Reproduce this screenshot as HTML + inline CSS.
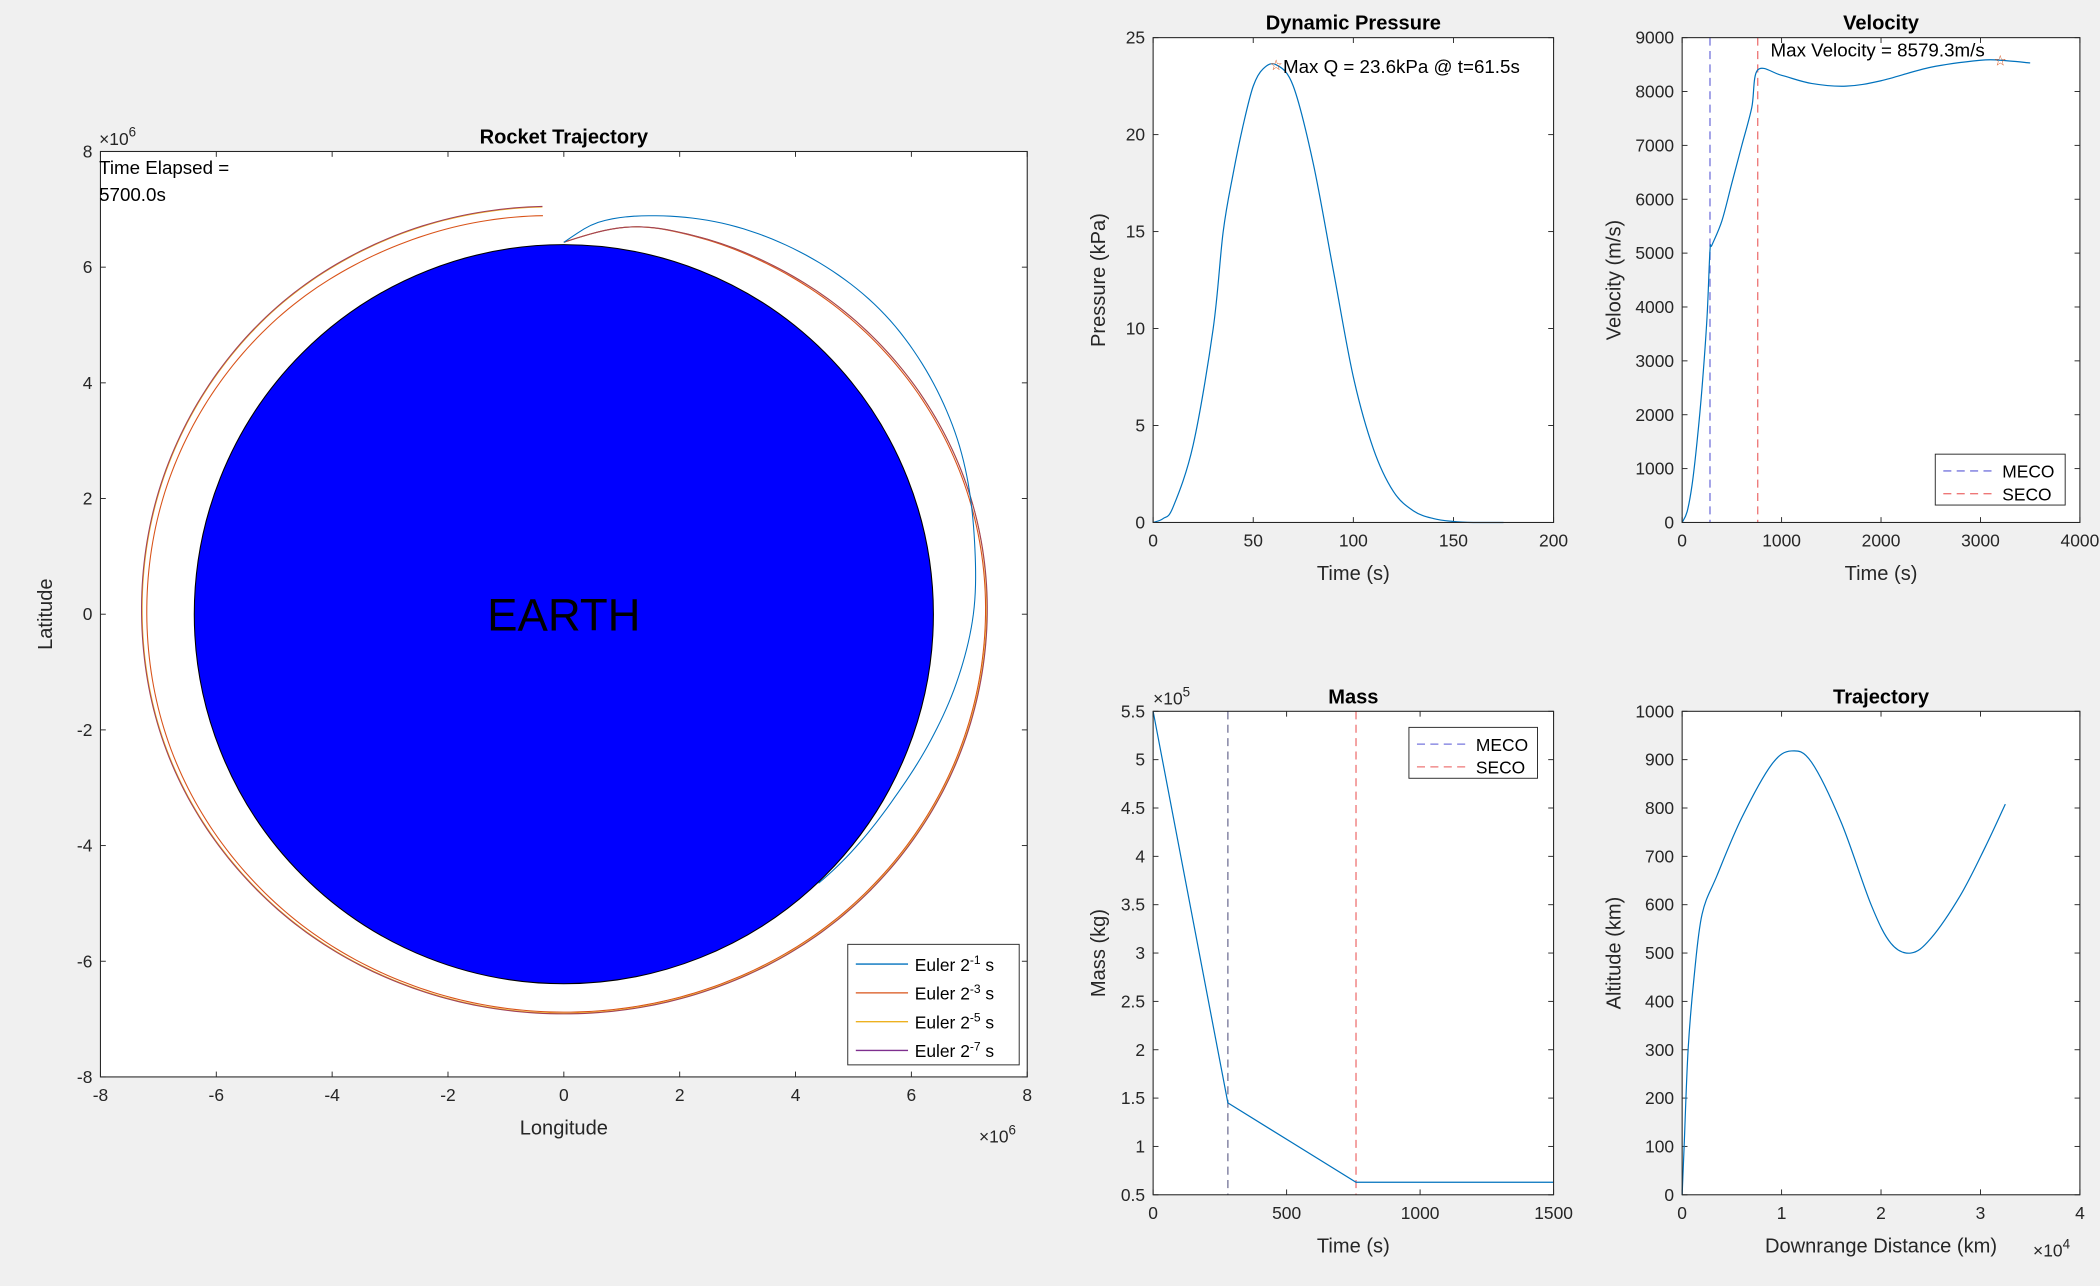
<!DOCTYPE html>
<html><head><meta charset="utf-8"><style>
html,body{margin:0;padding:0;background:#f0f0f0;}
svg{display:block;font-family:"Liberation Sans",Arial,sans-serif;}
</style></head><body>
<svg id="fig" width="2100" height="1286" viewBox="0 0 1568 960" xmlns="http://www.w3.org/2000/svg">
<rect x="0" y="0" width="1568" height="960" fill="#f0f0f0"/>
</svg>
<script>
// ---------- DATA (orbits in polar form: angle deg, radius 1e6 m) ----------
const orbitAng1 = [90,85,77,65,50,40,25,10,0,-10,-20,-30,-46.6];
const orbitRad1 = [6.43,6.8,7.07,7.35,7.55,7.58,7.45,7.2,7.07,6.88,6.68,6.52,6.4];
const orbitAng2 = [90,80,70,60,45,30,15,0,-20,-45,-70,-90,-110,-135,-160,-180,-200,-225,-245,-260,-267];
const orbitRad2 = [6.43,6.8,6.92,7.0,7.12,7.22,7.28,7.28,7.22,7.08,6.93,6.88,6.92,7.05,7.17,7.2,7.2,7.12,7.0,6.93,6.9];
const orbitAng3 = [90,80,70,60,45,30,15,0,-20,-45,-70,-90,-110,-135,-160,-180,-200,-225,-245,-260,-267];
const orbitRad3 = [6.43,6.8,6.93,7.02,7.15,7.25,7.31,7.3,7.24,7.1,6.95,6.9,6.95,7.1,7.24,7.28,7.3,7.26,7.16,7.08,7.05];
const orbitAng4 = orbitAng3.slice();
const orbitRad4 = [6.43,6.8,6.93,7.02,7.15,7.25,7.31,7.31,7.25,7.11,6.96,6.91,6.96,7.11,7.25,7.29,7.31,7.27,7.17,7.09,7.06];
const earthRadius = 6.38;

const qTime = [0,5,10,20,30,35,40,45,50,55,61.5,70,80,90,100,110,120,130,140,150,160,175];
const qVal  = [0,0.2,0.8,4,10,15,18,20.5,22.5,23.4,23.6,22.5,18.5,13,7.5,3.8,1.6,0.6,0.2,0.05,0,0];
const qMax = [61.5,23.6];

const vTime = [0,50,100,150,200,250,280,300,400,500,600,700,760,1000,1300,1650,2000,2500,3000,3200,3500];
const vVal  = [0,200,700,1500,2500,3800,5050,5150,5600,6300,7000,7700,8400,8300,8150,8100,8200,8450,8580,8580,8530];
const vMax = [3200,8579.3];
const mecoT = 280, secoT = 760;

const mTime = [0,280,760,1500];
const mVal  = [5.5,1.45,0.63,0.63];

const dRange = [0,0.02,0.06,0.12,0.2,0.35,0.6,0.9,1.1,1.3,1.6,1.9,2.1,2.3,2.5,2.8,3.05,3.25];
const alt    = [0,100,300,450,580,660,780,890,918,895,770,600,520,500,530,620,720,808];

// ---------- HELPERS ----------
const NS="http://www.w3.org/2000/svg";
const fig=document.getElementById('fig');
function el(tag,attrs,parent){const e=document.createElementNS(NS,tag);for(const k in attrs)e.setAttribute(k,attrs[k]);(parent||fig).appendChild(e);return e;}
function smooth(pts){
  let d="M"+pts[0][0]+","+pts[0][1];
  for(let i=0;i<pts.length-1;i++){
    const p0=pts[Math.max(0,i-1)],p1=pts[i],p2=pts[i+1],p3=pts[Math.min(pts.length-1,i+2)];
    const c1=[p1[0]+(p2[0]-p0[0])/6,p1[1]+(p2[1]-p0[1])/6];
    const c2=[p2[0]-(p3[0]-p1[0])/6,p2[1]-(p3[1]-p1[1])/6];
    d+=" C"+c1[0]+","+c1[1]+" "+c2[0]+","+c2[1]+" "+p2[0]+","+p2[1];
  }
  return d;
}
function axes(name,x0,y0,x1,y1,xr,yr,xt,yt,xl,yl,title,xlab,ylab){
  const sx=v=>x0+(v-xr[0])/(xr[1]-xr[0])*(x1-x0);
  const sy=v=>y1-(v-yr[0])/(yr[1]-yr[0])*(y1-y0);
  const g=el('g',{});
  
  
  const bg=el('rect',{x:x0,y:y0,width:x1-x0,height:y1-y0,fill:'#fff',stroke:'none'},g);
  
  
  const ticks=el('g',{stroke:'#262626','stroke-width':0.7},g);
  xt.forEach((v,i)=>{
    const x=sx(v);
    el('line',{x1:x,y1:y1,x2:x,y2:y1-4},ticks);
    el('line',{x1:x,y1:y0,x2:x,y2:y0+4},ticks);
    const t=el('text',{x:x,y:y1+18,'text-anchor':'middle','font-size':13,fill:'#262626'},g);
    t.textContent=xl[i];
    
    
  });
  yt.forEach((v,i)=>{
    const y=sy(v);
    el('line',{x1:x0,y1:y,x2:x0+4,y2:y},ticks);
    el('line',{x1:x1,y1:y,x2:x1-4,y2:y},ticks);
    const t=el('text',{x:x0-6,y:y+4.5,'text-anchor':'end','font-size':13,fill:'#262626'},g);
    t.textContent=yl[i];
    
    
  });
  const tt=el('text',{x:(x0+x1)/2,y:y0-6,'text-anchor':'middle','font-size':15,'font-weight':'bold',fill:'#000'},g);
  tt.textContent=title;
  
  
  const xla=el('text',{x:(x0+x1)/2,y:y1+43,'text-anchor':'middle','font-size':15,fill:'#262626'},g);
  xla.textContent=xlab;
  
  
  const yx=x0-36-(name==='velocity-chart'||name==='trajectory-chart'?10:0);
  const yla=el('text',{x:0,y:0,'text-anchor':'middle','font-size':15,fill:'#262626',transform:'translate('+yx+','+((y0+y1)/2)+') rotate(-90)'},g);
  yla.textContent=ylab;
  
  
  return {g,sx,sy,x0,y0,x1,y1};
}
function frame(a){
  const f=el('rect',{x:a.x0,y:a.y0,width:a.x1-a.x0,height:a.y1-a.y0,fill:'none',stroke:'#262626','stroke-width':0.8},a.g);
  
  
}
function line(a,xs,ys,color,name,sm,w){
  const pts=xs.map((v,i)=>[a.sx(v),a.sy(ys[i])]);
  const d=sm?smooth(pts):"M"+pts.map(p=>p[0]+","+p[1]).join(" L");
  const p=el('path',{d:d,fill:'none',stroke:color,'stroke-width':w||0.9},a.g);
  
  
  return p;
}
// smooth interpolation of r(angle) in polar space, then dense polyline
function polarLine(a,angs,rads,color,name){
  const n=angs.length, xs=[], ys=[];
  const slope=i=>{const i0=Math.max(0,i-1),i1=Math.min(n-1,i+1);return (rads[i1]-rads[i0])/(angs[i1]-angs[i0]);};
  for(let i=0;i<n-1;i++){
    const t0=angs[i],t1=angs[i+1],h=t1-t0,m0=slope(i)*h,m1=slope(i+1)*h;
    const steps=Math.max(4,Math.ceil(Math.abs(h)));
    for(let s=0;s<(i===n-2?steps+1:steps);s++){
      const u=s/steps,u2=u*u,u3=u2*u;
      const r=(2*u3-3*u2+1)*rads[i]+(u3-2*u2+u)*m0+(-2*u3+3*u2)*rads[i+1]+(u3-u2)*m1;
      const th=(t0+h*u)*Math.PI/180;
      xs.push(r*Math.cos(th));ys.push(r*Math.sin(th));
    }
  }
  return line(a,xs,ys,color,name,false,0.8);
}
function star(a,x,y,name){
  const t=el('text',{x:a.sx(x),y:a.sy(y)+4,'text-anchor':'middle','font-size':11,fill:'#D95319'},a.g);
  t.textContent='☆';
  
  
}
function vline(a,x,color,name){
  const l=el('line',{x1:a.sx(x),x2:a.sx(x),y1:a.y0,y2:a.y1,stroke:color,'stroke-width':1,'stroke-dasharray':'6,4'},a.g);
  
  
}
function legend(a,x,y,w,entries,name){
  const g=el('g',{},a.g);
  
  
  el('rect',{x:x,y:y,width:w,height:entries.length*(entries[0][2]||18)+4,fill:'#fff',stroke:'#262626','stroke-width':0.7},g);
  entries.forEach((e,i)=>{
    const h=e[2]||18, yy=y+4+h*i+h/2;
    const ln=el('line',{x1:x+6,x2:x+45,y1:yy,y2:yy,stroke:e[1],'stroke-width':1,'stroke-dasharray':e[3]||'none'},g);
    
    
    const t=el('text',{x:x+50,y:yy+5,'font-size':13,fill:'#000'},g);
    t.innerHTML=e[0];
    
    
  });
}
function rng(a,b,s){const r=[];for(let v=a;v<=b+1e-9;v+=s)r.push(+v.toFixed(4));return r;}

// ---------- MAIN TRAJECTORY ----------
const mt=rng(-8,8,2);
const A=axes('rocket-trajectory-chart',75,113,767,804,[-8,8],[-8,8],mt,mt,mt.map(String),mt.map(String),'Rocket Trajectory','Longitude','Latitude');
const earth=el('circle',{cx:A.sx(0),cy:A.sy(0),r:A.sx(earthRadius)-A.sx(0),fill:'#0000ff',stroke:'#000','stroke-width':0.8},A.g);


const et=el('text',{x:A.sx(0),y:A.sy(0)+12,'text-anchor':'middle','font-size':34,fill:'#000'},A.g);
et.textContent='EARTH';


polarLine(A,orbitAng2,orbitRad2,'#D95319','orbit-euler-2-3');
polarLine(A,orbitAng3,orbitRad3,'#EDB120','orbit-euler-2-5');
polarLine(A,orbitAng4,orbitRad4,'#A0405A','orbit-euler-2-7');
polarLine(A,orbitAng1,orbitRad1,'#0072BD','orbit-euler-2-1');
frame(A);
const te=el('text',{x:74,y:130,'font-size':14,fill:'#000'},A.g);
te.textContent='Time Elapsed =';


const te2=el('text',{x:74,y:150,'font-size':14,fill:'#000'},A.g);
te2.textContent='5700.0s';


const ex1=el('text',{x:74,y:108,'font-size':13,fill:'#262626'},A.g);
ex1.innerHTML='×10<tspan dy="-6" font-size="10">6</tspan>';


const ex2=el('text',{x:731,y:853,'font-size':13,fill:'#262626'},A.g);
ex2.innerHTML='×10<tspan dy="-6" font-size="10">6</tspan>';


const sup=n=>'Euler 2<tspan dy="-5" font-size="9">-'+n+'</tspan><tspan dy="5"> s</tspan>';
legend(A,633,705,128,[[sup(1),'#0072BD',21.5],[sup(3),'#D95319',21.5],[sup(5),'#EDB120',21.5],[sup(7),'#7E2F8E',21.5]],'orbit-legend');

// ---------- DYNAMIC PRESSURE ----------
const P=axes('pressure-chart',861,28,1160,390,[0,200],[0,25],rng(0,200,50),rng(0,25,5),rng(0,200,50).map(String),rng(0,25,5).map(String),'Dynamic Pressure','Time (s)','Pressure (kPa)');
line(P,qTime,qVal,'#0072BD','pressure-line',true);
star(P,qMax[0],qMax[1],'max-q-marker');
frame(P);
const qt=el('text',{x:P.sx(qMax[0])+5,y:P.sy(qMax[1])+6,'font-size':14,fill:'#000'},P.g);
qt.textContent='Max Q = '+qMax[1]+'kPa @ t='+qMax[0]+'s';



// ---------- VELOCITY ----------
const V=axes('velocity-chart',1256,28,1553,390,[0,4000],[0,9000],rng(0,4000,1000),rng(0,9000,1000),rng(0,4000,1000).map(String),rng(0,9000,1000).map(String),'Velocity','Time (s)','Velocity (m/s)');
vline(V,mecoT,'#7777dd','meco-line');
vline(V,secoT,'#ee7777','seco-line');
line(V,vTime,vVal,'#0072BD','velocity-line',true);
star(V,vMax[0],vMax[1],'max-velocity-marker');
frame(V);
const vt=el('text',{x:1322,y:42,'font-size':14,fill:'#000'},V.g);
vt.textContent='Max Velocity = '+vMax[1]+'m/s';


legend(V,1445,339,97,[['MECO','#7777dd',17,'6,4'],['SECO','#ee7777',17,'6,4']],'velocity-legend');

// ---------- MASS ----------
const myt=rng(0.5,5.5,0.5);
const M=axes('mass-chart',861,531,1160,892,[0,1500],[0.5,5.5],rng(0,1500,500),myt,rng(0,1500,500).map(String),myt.map(String),'Mass','Time (s)','Mass (kg)');
vline(M,mecoT,'#777799','meco-line');
vline(M,secoT,'#ee7777','seco-line');
line(M,mTime,mVal,'#0072BD','mass-line',false);
frame(M);
const mex=el('text',{x:861,y:526,'font-size':13,fill:'#262626'},M.g);
mex.innerHTML='×10<tspan dy="-6" font-size="10">5</tspan>';


legend(M,1052,543,96,[['MECO','#7777dd',17,'6,4'],['SECO','#ee7777',17,'6,4']],'mass-legend');

// ---------- TRAJECTORY ----------
const T=axes('trajectory-chart',1256,531,1553,892,[0,4],[0,1000],rng(0,4,1),rng(0,1000,100),rng(0,4,1).map(String),rng(0,1000,100).map(String),'Trajectory','Downrange Distance (km)','Altitude (km)');
line(T,dRange,alt,'#0072BD','trajectory-line',true);
frame(T);
const tex=el('text',{x:1518,y:938,'font-size':13,fill:'#262626'},T.g);
tex.innerHTML='×10<tspan dy="-6" font-size="10">4</tspan>';


</script>
</body></html>
